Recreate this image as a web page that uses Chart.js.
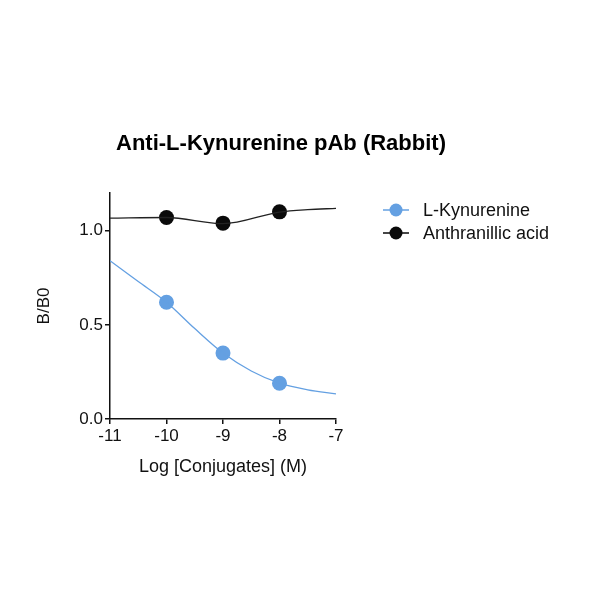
<!DOCTYPE html>
<html>
<head>
<meta charset="utf-8">
<script src="https://cdn.jsdelivr.net/npm/chart.js@4/dist/chart.umd.min.js"></script>
<style>
  html, body { margin: 0; padding: 0; background: #fff; }
  #wrap { width: 600px; height: 600px; }
</style>
</head>
<body>
<div id="wrap"><canvas id="chart"></canvas></div>
<script>
// ---------------- Data ----------------
const chartTitle = "Anti-L-Kynurenine pAb (Rabbit)";
const seriesNames = ["L-Kynurenine", "Anthranillic acid"];
const logConc = [-10, -9, -8];
const kynurenine = [0.62, 0.35, 0.19];
const anthranilic = [1.07, 1.04, 1.10];
// fitted curves
const fitX = [-11, -10.5, -10, -9.5, -9, -8.5, -8, -7.5, -7];
const kynurenineFit = [0.84, 0.73, 0.62, 0.48, 0.35, 0.255, 0.19, 0.155, 0.133];
const anthranilicFitX = [-11, -10, -9, -8, -7.5, -7];
const anthranilicFit = [1.067, 1.07, 1.037, 1.099, 1.112, 1.118];
const xTicks = [-11, -10, -9, -8, -7];
const yTicks = [0, 0.5, 1.0];

const BLUE = "#64a0e2";
const BLACK = "#0a0a0a";
const FONT = "'Liberation Sans', Arial, sans-serif";

const pts = (xs, ys) => xs.map((x, i) => ({ x, y: ys[i] }));

// legend marker: short line with a dot in the middle
function legendMarker(color) {
  const c = document.createElement("canvas");
  c.width = 26; c.height = 16;
  const g = c.getContext("2d");
  g.strokeStyle = color; g.lineWidth = 1.5;
  g.beginPath(); g.moveTo(0, 8); g.lineTo(26, 8); g.stroke();
  g.fillStyle = color;
  g.beginPath(); g.arc(13, 8, 6.5, 0, Math.PI * 2); g.fill();
  return c;
}

// ---------------- Title + legend ----------------
const extras = {
  id: "extras",
  afterDraw(chart) {
    const ctx = chart.ctx;
    ctx.save();
    ctx.fillStyle = "#000";
    ctx.font = "bold 22px " + FONT;
    ctx.textAlign = "center";
    ctx.textBaseline = "middle";
    ctx.fillText(chartTitle, 281, 144);

    const colors = [BLUE, BLACK];
    ctx.font = "18px " + FONT;
    ctx.textAlign = "left";
    seriesNames.forEach((name, i) => {
      const y = 210 + i * 23;
      ctx.drawImage(legendMarker(colors[i]), 383, y - 8);
      ctx.fillStyle = "#111";
      ctx.fillText(name, 423, y + 1);
    });
    ctx.restore();
  }
};

const axisStyle = {
  grid: { drawOnChartArea: false, drawTicks: true, tickLength: 5, color: "#111", lineWidth: 1.5 },
  border: { color: "#111", width: 1.5 }
};
const tickFont = { family: FONT, size: 17 };

new Chart(document.getElementById("chart"), {
  type: "line",
  data: {
    datasets: [
      {
        label: "kyn fit", data: pts(fitX, kynurenineFit),
        borderColor: BLUE, borderWidth: 1.3, pointRadius: 0,
        cubicInterpolationMode: "monotone", fill: false
      },
      {
        label: "anth fit", data: pts(anthranilicFitX, anthranilicFit),
        borderColor: "#222", borderWidth: 1.3, pointRadius: 0,
        cubicInterpolationMode: "monotone", fill: false
      },
      {
        label: seriesNames[0], data: pts(logConc, kynurenine),
        showLine: false, pointRadius: 7.5, pointBackgroundColor: BLUE, pointBorderColor: BLUE, pointBorderWidth: 0
      },
      {
        label: seriesNames[1], data: pts(logConc, anthranilic),
        showLine: false, pointRadius: 7.5, pointBackgroundColor: BLACK, pointBorderColor: BLACK, pointBorderWidth: 0
      }
    ]
  },
  options: {
    responsive: true,
    maintainAspectRatio: false,
    animation: false,
    layout: { padding: { left: 34, right: 264, top: 193, bottom: 122 } },
    plugins: { legend: { display: false }, title: { display: false }, tooltip: { enabled: false } },
    scales: {
      x: {
        type: "linear", min: -11, max: -7,
        ...axisStyle,
        afterBuildTicks: s => { s.ticks = xTicks.map(v => ({ value: v })); },
        ticks: { color: "#111", font: tickFont, padding: 2, maxRotation: 0, callback: v => String(v) },
        title: { display: true, text: "Log [Conjugates] (M)", color: "#111", font: { family: FONT, size: 18 }, padding: 0 },
        afterFit: s => { s.height = 59; }
      },
      y: {
        type: "linear", min: 0, max: 1.2,
        ...axisStyle,
        afterBuildTicks: s => { s.ticks = yTicks.map(v => ({ value: v })); },
        ticks: { color: "#111", font: tickFont, padding: 2, callback: v => Number(v).toFixed(1) },
        title: { display: true, text: "B/B0", color: "#111", font: { family: FONT, size: 17 }, padding: 0 },
        afterFit: s => { s.width = 76; }
      }
    }
  },
  plugins: [extras]
});
</script>
</body>
</html>
